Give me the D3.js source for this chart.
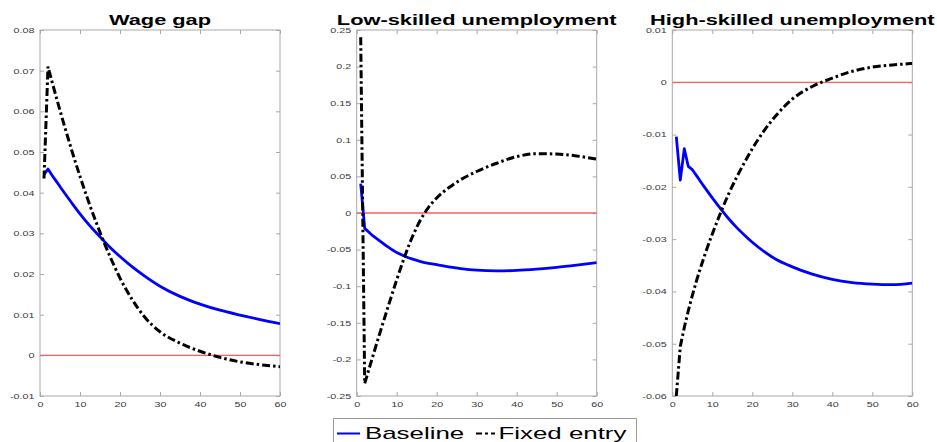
<!DOCTYPE html>
<html>
<head>
<meta charset="utf-8">
<script src="https://cdn.jsdelivr.net/npm/d3@7"></script>
<style>
  body { margin: 0; background: #fff; }
  text { font-family: "Liberation Sans", Arial, Helvetica, sans-serif; }
</style>
</head>
<body>
<svg id="chart" width="937" height="442"></svg>
<script>
// Impulse responses over 60 periods (sampled periods; drawn as smooth curves)
const periods = [1, 2, 3, 4, 5, 6, 8, 10, 12, 14, 16, 18, 20, 23, 26, 30, 35, 40, 45, 50, 55, 60];

// Wage gap
const wageBaseline = [0.0445, 0.0458, 0.0443, 0.0429, 0.0415, 0.0401, 0.0374, 0.0348, 0.0324, 0.0302, 0.0281, 0.0261, 0.0243, 0.0218, 0.0196, 0.0170, 0.0145, 0.0126, 0.0111, 0.0099, 0.0088, 0.0078];
const wageFixed    = [0.0435, 0.0710, 0.0673, 0.0637, 0.0602, 0.0568, 0.0502, 0.0440, 0.0382, 0.0328, 0.0278, 0.0232, 0.0190, 0.0138, 0.0096, 0.0058, 0.0030, 0.0010, -0.0005, -0.0016, -0.0023, -0.0028];

// Low-skilled unemployment
const lowBaseline = [0.040, -0.021, -0.026, -0.031, -0.035, -0.039, -0.047, -0.054, -0.059, -0.0630, -0.0663, -0.0688, -0.0706, -0.0736, -0.0759, -0.0781, -0.0791, -0.0785, -0.0767, -0.0742, -0.0711, -0.0677];
const lowFixed    = [0.240, -0.233, -0.2145, -0.1962, -0.1782, -0.1604, -0.1254, -0.0914, -0.0594, -0.0314, -0.0090, 0.0080, 0.0205, 0.0345, 0.0455, 0.0567, 0.0680, 0.0770, 0.0810, 0.0806, 0.0779, 0.0736];

// High-skilled unemployment
const highBaseline = [-0.0104, -0.0187, -0.0127, -0.0161, -0.0167, -0.0178, -0.0200, -0.0221, -0.0241, -0.0260, -0.0277, -0.0292, -0.0306, -0.0324, -0.0339, -0.0353, -0.0367, -0.0377, -0.0383, -0.0386, -0.0387, -0.0384];
const highFixed    = [-0.0600, -0.0505, -0.0469, -0.0437, -0.0408, -0.0381, -0.0333, -0.0290, -0.0251, -0.0215, -0.0183, -0.0154, -0.0127, -0.0092, -0.0063, -0.0032, -0.0008, 0.0008, 0.0021, 0.0029, 0.0033, 0.0036];

// Axis ticks
const xTicks = [0, 10, 20, 30, 40, 50, 60];
const wageTicks = [-0.01, 0, 0.01, 0.02, 0.03, 0.04, 0.05, 0.06, 0.07, 0.08];
const lowTicks  = [-0.25, -0.2, -0.15, -0.1, -0.05, 0, 0.05, 0.1, 0.15, 0.2, 0.25];
const highTicks = [-0.06, -0.05, -0.04, -0.03, -0.02, -0.01, 0, 0.01];

const titles = ["Wage gap", "Low-skilled unemployment", "High-skilled unemployment"];
const seriesNames = ["Baseline", "Fixed entry"];

// Layout
const SX = 1.558;              // horizontal text stretch
const plotW = 240, plotTop = 30, plotBottom = 396;
const panels = [
  { title: titles[0], left: 40,    ticks: wageTicks, base: wageBaseline, fixed: wageFixed },
  { title: titles[1], left: 356.7, ticks: lowTicks,  base: lowBaseline,  fixed: lowFixed },
  { title: titles[2], left: 672.3, ticks: highTicks, base: highBaseline, fixed: highFixed }
];

const axisColor = "#a9a9a9";
const labelColor = "#3a3a3a";
const blue = "#0000ff";
const dashDot = "8,3,2.5,3";
const fmt = v => String(+v.toFixed(3));
const HEAD = 5;   // first periods are joined with straight segments (period-by-period jumps)

const svg = d3.select("#chart");

panels.forEach((p, i) => {
  const x = d3.scaleLinear().domain([0, 60]).range([p.left, p.left + plotW]);
  const y = d3.scaleLinear().domain(d3.extent(p.ticks)).range([plotBottom, plotTop]);
  const g = svg.append("g");

  // clip area
  g.append("clipPath").attr("id", "clip" + i)
    .append("rect").attr("x", p.left).attr("y", plotTop).attr("width", plotW).attr("height", plotBottom - plotTop);

  // frame
  g.append("rect")
    .attr("x", p.left).attr("y", plotTop).attr("width", plotW).attr("height", plotBottom - plotTop)
    .attr("fill", "none").attr("stroke", axisColor).attr("stroke-width", 1);

  // axes with inward ticks
  const styleAxis = sel => {
    sel.select(".domain").remove();
    sel.selectAll("line").attr("stroke", axisColor);
  };
  const bottomAx = g.append("g").attr("transform", `translate(0,${plotBottom})`)
    .call(d3.axisBottom(x).tickValues(xTicks).tickSize(-4).tickSizeOuter(0).tickPadding(0).tickFormat(d3.format("d")));
  styleAxis(bottomAx);
  bottomAx.selectAll("text")
    .attr("y", null).attr("dy", null)
    .attr("transform", `translate(0,10.5) scale(${SX},1)`)
    .attr("font-size", 6.9).attr("fill", labelColor).attr("font-family", null);

  const leftAx = g.append("g").attr("transform", `translate(${p.left},0)`)
    .call(d3.axisLeft(y).tickValues(p.ticks).tickSize(-4).tickSizeOuter(0).tickPadding(0).tickFormat(fmt));
  styleAxis(leftAx);
  leftAx.selectAll("text")
    .attr("x", null).attr("dy", "0.34em")
    .attr("transform", `translate(-5.5,0) scale(${SX},1)`)
    .attr("font-size", 6.9).attr("fill", labelColor).attr("font-family", null);

  const topAx = g.append("g").attr("transform", `translate(0,${plotTop})`)
    .call(d3.axisTop(x).tickValues(xTicks).tickSize(-4).tickSizeOuter(0).tickFormat(""));
  styleAxis(topAx);
  const rightAx = g.append("g").attr("transform", `translate(${p.left + plotW},0)`)
    .call(d3.axisRight(y).tickValues(p.ticks).tickSize(-4).tickSizeOuter(0).tickFormat(""));
  styleAxis(rightAx);

  const plot = g.append("g").attr("clip-path", `url(#clip${i})`);

  // zero reference line
  plot.append("line")
    .attr("x1", p.left).attr("x2", p.left + plotW)
    .attr("y1", y(0)).attr("y2", y(0))
    .attr("stroke", "#ff5c5c").attr("stroke-width", 1.3);

  // straight segments for the opening periods, smooth curve afterwards
  const straight = d3.line().x(d => x(d[0])).y(d => y(d[1]));
  const smooth = d3.line().x(d => x(d[0])).y(d => y(d[1])).curve(d3.curveMonotoneX);
  const pathFor = vals => {
    const pts = periods.map((t, j) => [t, vals[j]]);
    return straight(pts.slice(0, HEAD)) + smooth(pts.slice(HEAD - 1)).replace(/^M/, "L");
  };

  plot.append("path").attr("d", pathFor(p.base))
    .attr("fill", "none").attr("stroke", blue).attr("stroke-width", 2.8)
    .attr("stroke-linejoin", "round");

  plot.append("path").attr("d", pathFor(p.fixed))
    .attr("fill", "none").attr("stroke", "#000").attr("stroke-width", 3)
    .attr("stroke-dasharray", dashDot);

  // title
  svg.append("text")
    .attr("transform", `translate(${p.left + plotW / 2},25) scale(${SX},1)`)
    .attr("text-anchor", "middle")
    .attr("font-size", 14).attr("font-weight", "bold").attr("fill", "#000")
    .text(p.title);
});

// legend
const lg = svg.append("g");
lg.append("rect").attr("x", 333.5).attr("y", 418.5).attr("width", 303).attr("height", 30)
  .attr("fill", "#fff").attr("stroke", "#9a9a9a").attr("stroke-width", 1);
lg.append("line").attr("x1", 337).attr("x2", 360).attr("y1", 433.5).attr("y2", 433.5)
  .attr("stroke", blue).attr("stroke-width", 2);
lg.append("text").attr("transform", `translate(365,438.5) scale(${SX},1)`)
  .attr("font-size", 16.6).attr("fill", "#000").text(seriesNames[0]);
lg.append("line").attr("x1", 476).attr("x2", 495).attr("y1", 433.5).attr("y2", 433.5)
  .attr("stroke", "#000").attr("stroke-width", 2).attr("stroke-dasharray", "6,3,3,3");
lg.append("text").attr("transform", `translate(498.5,438.5) scale(${SX},1)`)
  .attr("font-size", 16.6).attr("fill", "#000").text(seriesNames[1]);
</script>
</body>
</html>
